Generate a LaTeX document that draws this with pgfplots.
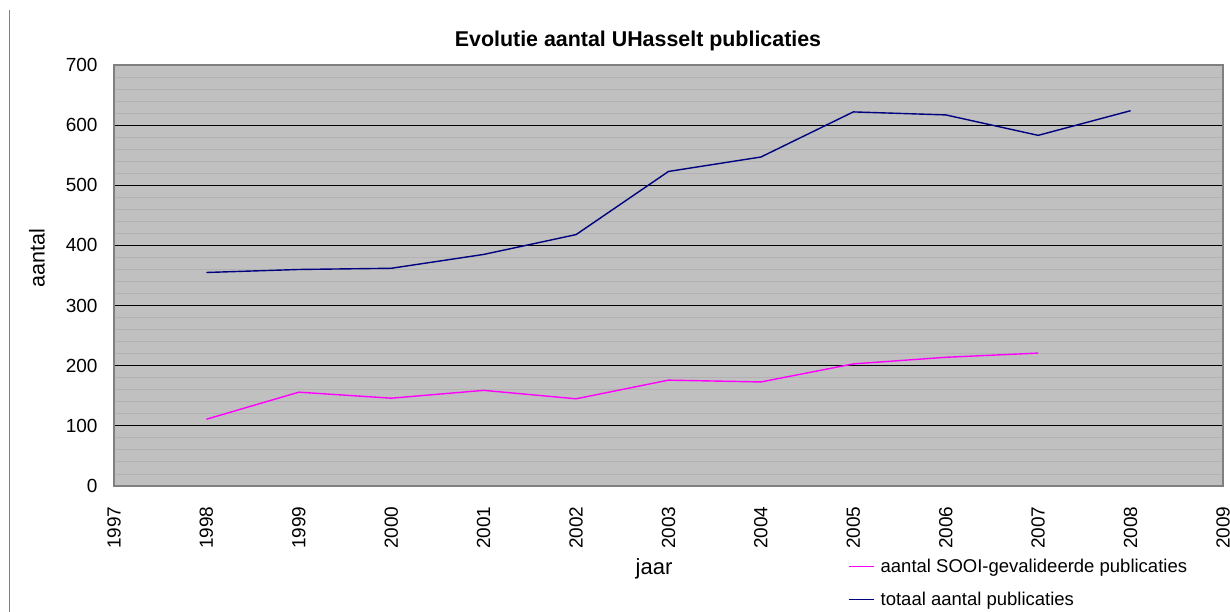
\documentclass[border=0pt]{standalone}
\usepackage{pgfplots}
\pgfplotsset{compat=1.18}
\usepackage{fontspec}
\setmainfont{Liberation Sans}
\definecolor{plotbg}{HTML}{C0C0C0}
\definecolor{minorgrid}{HTML}{B2B2B2}
\definecolor{frame}{HTML}{808080}
\definecolor{navyline}{HTML}{000080}
\definecolor{pinkline}{HTML}{FF00FF}
\begin{document}
\begin{tikzpicture}[x=1pt,y=1pt]
\useasboundingbox (0,0) rectangle (1230,612);
\draw[frame, line width=1pt] (9.5,0) -- (9.5,602);
\begin{axis}[
  at={(114pt,126pt)}, anchor=south west,
  scale only axis, width=1109pt, height=421pt,
  xmin=1997, xmax=2009, ymin=0, ymax=700,
  xtick={1997,1998,...,2009},
  ytick={0,100,...,700},
  minor y tick num=4,
  ymajorgrids, yminorgrids,
  major grid style={black, line width=1.1pt},
  minor grid style={minorgrid, line width=0.9pt},
  axis background/.style={fill=plotbg},
  axis line style={frame, line width=1.6pt},
  major tick length=0pt, minor tick length=0pt,
  /pgf/number format/assume math mode=true,
  /pgf/number format/1000 sep={},
  tick label style={font=\fontsize{19}{22}\selectfont},
  yticklabel style={xshift=-13pt},
  xticklabel style={rotate=90, anchor=east, yshift=0pt, xshift=-17pt},
  legend style={draw=none, fill=none, at={(rel axis cs:0.662,-0.169)}, anchor=north west,
     font=\fontsize{18.5}{22}\selectfont, row sep=14pt, inner sep=0pt,
     /tikz/every even column/.append style={column sep=0pt}},
  legend cell align=left,
  legend image code/.code={\draw[#1, line width=1.2pt] (0pt,0pt) -- (25pt,0pt); \path (29pt,0pt);},
  clip=false,
]
\addplot[pinkline, line width=1.4pt] coordinates {
 (1998,111) (1999,156) (2000,146) (2001,159) (2002,145) (2003,176)
 (2004,173) (2005,203) (2006,214) (2007,221)};
\addlegendentry{aantal SOOI-gevalideerde publicaties}
\addplot[navyline, line width=1.4pt] coordinates {
 (1998,355) (1999,360) (2000,362) (2001,385) (2002,418) (2003,523)
 (2004,547) (2005,622) (2006,617) (2007,583) (2008,624)};
\addlegendentry{totaal aantal publicaties}
\end{axis}
\node[anchor=base, font=\bfseries\fontsize{21.4}{25}\selectfont] at (638,565) {Evolutie aantal UHasselt publicaties};
\node[rotate=90, font=\fontsize{21.5}{25}\selectfont] at (37,354) {aantal};
\node[anchor=base, font=\fontsize{22}{26}\selectfont] at (654,37) {jaar};
\end{tikzpicture}
\end{document}
